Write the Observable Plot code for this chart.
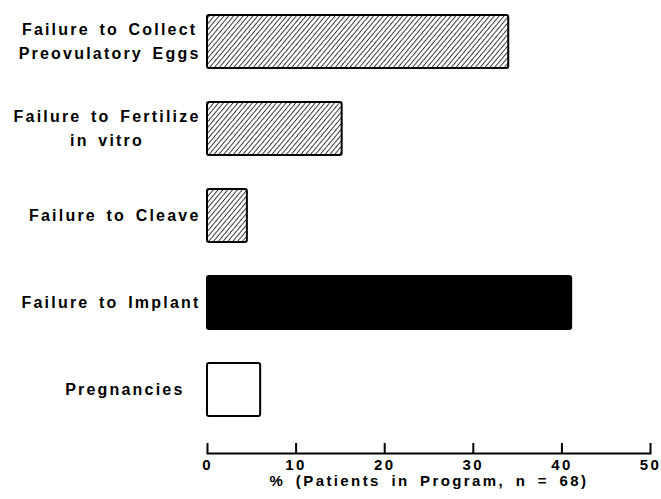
<!DOCTYPE html>
<html>
<head>
<meta charset="utf-8">
<script src="https://cdn.jsdelivr.net/npm/d3@7"></script>
<script src="https://cdn.jsdelivr.net/npm/@observablehq/plot@0.6"></script>
<style>
  body { margin: 0; background: white; }
</style>
</head>
<body>
<div id="chart"></div>
<script>
const categories = [
  "Failure to Collect\nPreovulatory Eggs",
  "Failure to Fertilize\nin vitro",
  "Failure to Cleave",
  "Failure to Implant",
  "Pregnancies"
];
const values = [34.0, 15.2, 4.5, 41.1, 6.0];
const fillKinds = ["hatch", "hatch", "hatch", "solid", "empty"];
const xTicks = [0, 10, 20, 30, 40, 50];
const xLabel = "% (Patients in Program, n = 68)";

const fillFor = {hatch: "url(#hatch)", solid: "black", empty: "white"};
const data = categories.map((c, i) => ({category: c, value: values[i], fill: fillFor[fillKinds[i]]}));

const defs = () => {
  const d = d3.create("svg:defs");
  const p = d.append("pattern")
    .attr("id", "hatch")
    .attr("patternUnits", "userSpaceOnUse")
    .attr("width", 3.7)
    .attr("height", 3.7)
    .attr("patternTransform", "rotate(40)");
  p.append("rect").attr("width", 3.7).attr("height", 3.7).attr("fill", "white");
  p.append("line").attr("x1", 0).attr("y1", -1).attr("x2", 0).attr("y2", 4.7)
    .attr("stroke", "black").attr("stroke-width", 1.5);
  return d.node();
};

const font = {fontFamily: "Liberation Sans, Arial, sans-serif", fontWeight: "bold", fontSize: "15px", letterSpacing: "2.4px", wordSpacing: "4px"};

const chart = Plot.plot({
  width: 661,
  height: 499,
  marginLeft: 207,
  marginRight: 11,
  marginTop: 0,
  marginBottom: 46,
  style: {...font, color: "black", background: "white"},
  x: {domain: [0, 50]},
  y: {domain: categories, range: [12.5, 418.5], paddingInner: 0.386, paddingOuter: 0},
  marks: [
    defs,
    Plot.barX(data, {
      x: "value", y: "category", fill: "fill",
      stroke: "black", strokeWidth: 2, rx: 2
    }),
    Plot.frame({anchor: "bottom", strokeWidth: 2}),
    Plot.axisX({ticks: xTicks, tickSize: -10, strokeWidth: 2, tickFormat: () => null, label: null}),
    Plot.axisX({
      ticks: xTicks, tickSize: 0, tickPadding: 6, fontSize: 15,
      label: xLabel, labelAnchor: "center", labelOffset: 32, labelArrow: "none"
    }),
    Plot.axisY({tickSize: 0, tickPadding: 7, lineHeight: 1.5, dy: -3, label: null, fontSize: 16})
  ]
});

document.getElementById("chart").appendChild(chart);

// category labels: tighter letter spacing at the larger size
const yLabels = chart.querySelector('g[aria-label="y-axis tick label"]');
yLabels.setAttribute("letter-spacing", "2.2px");
yLabels.setAttribute("word-spacing", "3px");

// center each multi-line category label as a block, right-aligned to the axis
yLabels.querySelectorAll("text").forEach((t, i) => {
  const spans = t.querySelectorAll("tspan");
  if (categories[i] === "Pregnancies") {
    t.setAttribute("dx", -16);
  }
  if (spans.length < 2) return;
  let maxW = 0;
  spans.forEach(s => { maxW = Math.max(maxW, s.getComputedTextLength()); });
  t.setAttribute("text-anchor", "middle");
  spans.forEach(s => s.setAttribute("x", -maxW / 2));
});
</script>
</body>
</html>
